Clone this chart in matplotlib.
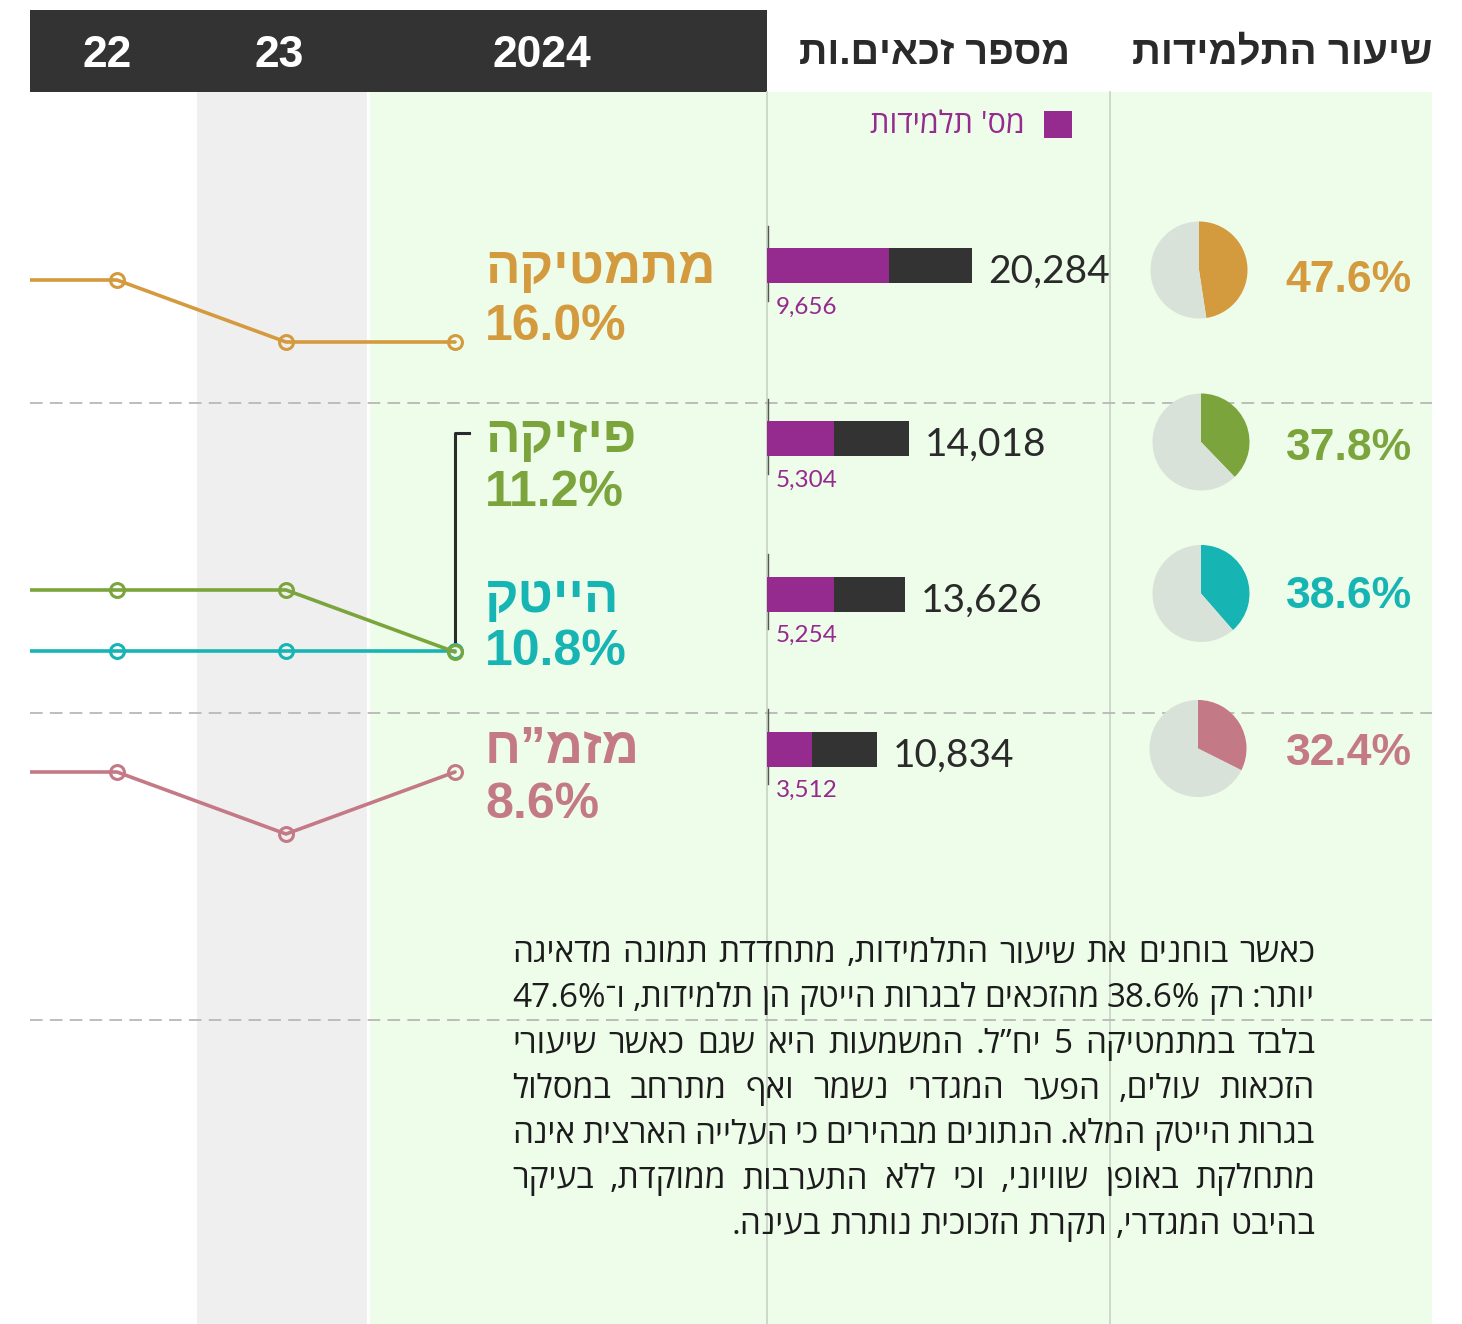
import re
import matplotlib
matplotlib.use('Agg')
import matplotlib.pyplot as plt
from matplotlib.patches import Rectangle

# ---------------- data ----------------
subjects = ['מתמטיקה', 'פיזיקה', 'הייטק', 'מזמ”ח']
rate_2024 = [16.0, 11.2, 10.8, 8.6]
trend_years = ['21', '22', '23', '2024']
year_labels = ['22', '23', '2024']
trend_math = [16.5, 16.5, 16.0, 16.0]
trend_physics = [11.7, 11.7, 11.7, 11.2]
trend_hitech = [10.8, 10.8, 10.8, 10.8]
trend_mazmach = [8.6, 8.6, 8.1, 8.6]
eligible_total = [20284, 14018, 13626, 10834]
eligible_female = [9656, 5304, 5254, 3512]
female_share = [47.6, 37.8, 38.6, 32.4]
header_counts = 'מספר זכאים.ות'
header_share = 'שיעור התלמידות'
legend_label = "מס' תלמידות"
paragraph = [
    'כאשר בוחנים את שיעור התלמידות, מתחדדת תמונה מדאיגה',
    'יותר: רק 38.6% מהזכאים לבגרות הייטק הן תלמידות, ו־47.6%',
    'בלבד במתמטיקה 5 יח”ל. המשמעות היא שגם כאשר שיעורי',
    'הזכאות עולים, הפער המגדרי נשמר ואף מתרחב במסלול',
    'בגרות הייטק המלא. הנתונים מבהירים כי העלייה הארצית אינה',
    'מתחלקת באופן שוויוני, וכי ללא התערבות ממוקדת, בעיקר',
    'בהיבט המגדרי, תקרת הזכוכית נותרת בעינה.',
]

# ---------------- style ----------------
COLORS = ['#D49A3E', '#7BA53C', '#17B4B4', '#C47986']
DARK = '#333333'
PURPLE = '#952A8F'
GREEN_BG = '#EEFCEA'
GRAY_BG = '#EFEFEF'
PIE_BG = '#D8E2D8'
BOLD_FAM = ['Liberation Sans', 'DejaVu Sans']
PARA_FAM = ['Open Sans', 'Liberation Sans', 'DejaVu Sans']
NUM_FAM = ['Lato', 'DejaVu Sans']

LTR_RE = re.compile(r'[0-9A-Za-z%][0-9A-Za-z.,%]*')


def rtl(s):
    """Convert logical-order RTL text to visual order for LTR rendering."""
    parts, pos = [], 0
    for m in LTR_RE.finditer(s):
        if m.start() > pos:
            parts.append(('r', s[pos:m.start()]))
        parts.append(('l', m.group()))
        pos = m.end()
    if pos < len(s):
        parts.append(('r', s[pos:]))
    return ''.join(t if k == 'l' else t[::-1] for k, t in reversed(parts))


W, H = 1462, 1324
fig = plt.figure(figsize=(W / 100, H / 100), dpi=100)
ax = fig.add_axes([0, 0, 1, 1])
ax.set_xlim(0, W)
ax.set_ylim(H, 0)
ax.axis('off')

# backgrounds
ax.add_patch(Rectangle((370, 92), 1432 - 370, H - 92, color=GREEN_BG, zorder=0, lw=0))
ax.add_patch(Rectangle((197, 92), 367 - 197, H - 92, color=GRAY_BG, zorder=0, lw=0))
ax.add_patch(Rectangle((30, 10), 767 - 30, 82, color=DARK, zorder=1, lw=0))
for xv in (767, 1110):
    ax.plot([xv, xv], [92, H], color='#CCD6C8', lw=1.3, zorder=1)
for yv in (403, 713, 1020):
    ax.plot([30, 1432], [yv, yv], color='#B8B8B8', lw=1.3, dashes=(7, 4), zorder=1)

# header
for lab, xv in zip(year_labels, [107, 279, 542]):
    ax.text(xv, 67, lab, ha='center', va='baseline', color='white', fontsize=32,
            fontweight='bold', family=BOLD_FAM, zorder=3)
ax.text(1070, 64, rtl(header_counts), ha='right', va='baseline', color='#2a2a2a',
        fontsize=28.5, fontweight='bold', family=BOLD_FAM)
ax.text(1432, 64, rtl(header_share), ha='right', va='baseline', color='#2a2a2a',
        fontsize=29, fontweight='bold', family=BOLD_FAM)

# legend
ax.add_patch(Rectangle((1044, 111), 28, 27, color=PURPLE, zorder=3, lw=0))
ax.text(1025, 133, rtl(legend_label), ha='right', va='baseline', color=PURPLE,
        fontsize=22, family=PARA_FAM)

# trend lines
year_x = [-52, 117, 286, 455]
px_per_point = 124
anchor_y = [342, 652, 651, 772]
trends = [trend_math, trend_physics, trend_hitech, trend_mazmach]
clip = Rectangle((30, 0), W, H, transform=ax.transData)
for i in [0, 3, 2, 1]:
    vals = trends[i]
    ys = [anchor_y[i] - (v - vals[-1]) * px_per_point for v in vals]
    ln, = ax.plot(year_x, ys, color=COLORS[i], lw=2.6, marker='o', markevery=[1, 2, 3],
                  ms=10, mfc='none', mew=2.2, zorder=4, solid_capstyle='round')
    ln.set_clip_path(clip)

# bracket
ax.plot([469, 455, 455], [433, 433, 645], color='#2b2b2b', lw=2.2, zorder=3)

# subject labels
name_base = [283, 452, 612, 763]
pct_base = [340, 506, 665, 818]
for i in range(4):
    ax.text(485, name_base[i], rtl(subjects[i]), ha='left', va='baseline', color=COLORS[i],
            fontsize=37, fontweight='bold', family=BOLD_FAM, zorder=4)
    ax.text(485, pct_base[i], f'{rate_2024[i]:.1f}%', ha='left', va='baseline',
            color=COLORS[i], fontsize=36, fontweight='bold', family=BOLD_FAM, zorder=4)

# bars
bar_y = [265.5, 438.5, 594, 749]
bar_h = 35
total_scale = 0.01012
female_scale = 0.01268
ax.barh(bar_y, [v * total_scale for v in eligible_total], left=767, height=bar_h,
        color=DARK, zorder=3)
ax.barh(bar_y, [v * female_scale for v in eligible_female], left=767, height=bar_h,
        color=PURPLE, zorder=4)
for i in range(4):
    by = bar_y[i]
    ax.plot([768, 768], [by - 40, by + 35], color='#555555', lw=1.0, zorder=2)
    ax.text(767 + eligible_total[i] * total_scale + 16, by + 17.5, f'{eligible_total[i]:,}',
            ha='left', va='baseline', color='#2a2a2a', fontsize=28, family=NUM_FAM, zorder=4)
    ax.text(776, by + 48, f'{eligible_female[i]:,}', ha='left', va='baseline',
            color=PURPLE, fontsize=17.5, family=NUM_FAM, zorder=4)

# pies
pie_c = [(1199, 270), (1201, 442), (1201, 593.5), (1198, 748.5)]
r = 49
for i in range(4):
    cx, cy = pie_c[i]
    pax = fig.add_axes([(cx - r) / W, 1 - (cy + r) / H, 2 * r / W, 2 * r / H])
    pax.pie([female_share[i], 100 - female_share[i]], colors=[COLORS[i], PIE_BG],
            startangle=90, counterclock=False, radius=1,
            wedgeprops=dict(linewidth=0))
    pax.set_xlim(-1.01, 1.01)
    pax.set_ylim(-1.01, 1.01)
    pax.axis('off')
    ax.text(1412, [292, 460, 608, 765][i], f'{female_share[i]:.1f}%', ha='right',
            va='baseline', color=COLORS[i], fontsize=32, fontweight='bold',
            family=BOLD_FAM, zorder=4)

# paragraph, justified right-to-left
renderer = fig.canvas.get_renderer()
para_kw = dict(fontsize=24, family=PARA_FAM, color='#1c1c1c', va='baseline', zorder=5)


def width_of(s):
    t = ax.text(0, 0, s, **para_kw)
    w = t.get_window_extent(renderer=renderer).width
    t.remove()
    return w


left_edge, right_edge = 512, 1315
base0, step = 962, 45.3
space_w = width_of('a a') - width_of('aa')
for li, line in enumerate(paragraph):
    y = base0 + li * step
    words = line.split(' ')
    vis = [rtl(w) for w in words]
    widths = [width_of(v) for v in vis]
    if li < len(paragraph) - 1:
        gap = (right_edge - left_edge - sum(widths)) / (len(words) - 1)
        gap = max(gap, 0.45 * space_w)
    else:
        gap = space_w
    x = right_edge
    for v, w in zip(vis, widths):
        ax.text(x, y, v, ha='right', **para_kw)
        x -= w + gap

fig.savefig('out.png', dpi=100, facecolor='white')
